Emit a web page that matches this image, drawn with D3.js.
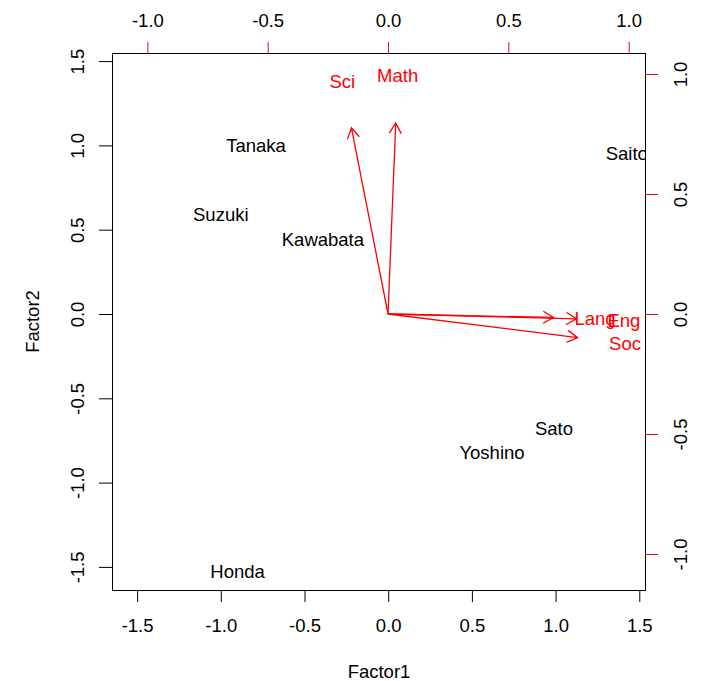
<!DOCTYPE html>
<html>
<head>
	<title>biplot</title>
	<script src="https://d3js.org/d3.v7.min.js"></script>
	<style>
		body { margin: 0; background: #fff; }
		svg text { font-family: "Liberation Sans", Arial, sans-serif; font-size: 18.5px; }
	</style>
</head>
<body>
	<div id="chart"></div>
	<script type="text/javascript">
		// scores .........................
		var students = ['Tanaka', 'Suzuki', 'Kawabata', 'Saito', 'Sato', 'Yoshino', 'Honda'];
		var factor1 = [-0.79, -1.00, -0.39, 1.425, 0.99, 0.62, -0.90];
		var factor2 = [1.00, 0.59, 0.44, 0.95, -0.68, -0.82, -1.53];

		// loadings .........................
		var subjects = ['Sci', 'Math', 'Lang', 'Eng', 'Soc'];
		var load1 = [-0.19, 0.04, 0.86, 0.98, 0.985];
		var load2 = [0.97, 0.995, -0.018, -0.025, -0.123];

		// tick values .........................
		var ticks1 = [-1.5, -1.0, -0.5, 0.0, 0.5, 1.0, 1.5];
		var ticks2 = [-1.0, -0.5, 0.0, 0.5, 1.0];

		var margin = { top: 53, bottom: 91, left: 112, right: 56 };
		var width = 702, height = 681;
		var fmt = function(d) { return d.toFixed(1); };

		var svg = d3.select('#chart').append('svg')
			.attr('width', width)
			.attr('height', height);

		// scales (primary = scores, secondary = loadings)
		var x = d3.scaleLinear().domain([-1.65, 1.54]).range([margin.left, width - margin.right]);
		var y = d3.scaleLinear().domain([-1.637, 1.548]).range([height - margin.bottom, margin.top]);
		var x2 = d3.scaleLinear().domain([-1.147, 1.072]).range([margin.left, width - margin.right]);
		var y2 = d3.scaleLinear().domain([-1.15, 1.0875]).range([height - margin.bottom, margin.top]);

		svg.append('clipPath').attr('id', 'plotclip')
			.append('rect')
			.attr('x', margin.left).attr('y', margin.top)
			.attr('width', width - margin.left - margin.right)
			.attr('height', height - margin.top - margin.bottom);

		// axes..........................
		function styleAxis(g, col) {
			g.attr('font-size', null).attr('font-family', null).attr('color', col);
			g.select('.domain').remove();
			g.selectAll('.tick text').attr('fill', '#000');
		}

		var xGuide = svg.append('g')
			.attr('transform', 'translate(0,' + (height - margin.bottom) + ')')
			.call(d3.axisBottom(x).tickValues(ticks1).tickSize(12).tickFormat(fmt));
		styleAxis(xGuide, '#000');
		xGuide.selectAll('.tick text').attr('y', 35).attr('dy', null).attr('dominant-baseline', 'central');

		var yGuide = svg.append('g')
			.attr('transform', 'translate(' + margin.left + ',0)')
			.call(d3.axisLeft(y).tickValues(ticks1).tickSize(13).tickFormat(fmt));
		styleAxis(yGuide, '#000');
		yGuide.selectAll('.tick text')
			.attr('x', null).attr('dy', null)
			.attr('text-anchor', 'middle').attr('dominant-baseline', 'central')
			.attr('transform', 'translate(-35,0) rotate(-90)');

		var x2Guide = svg.append('g')
			.attr('transform', 'translate(0,' + margin.top + ')')
			.call(d3.axisTop(x2).tickValues(ticks2).tickSize(11).tickFormat(fmt));
		styleAxis(x2Guide, '#FF0000');
		x2Guide.selectAll('.tick text').attr('y', -33).attr('dy', null).attr('dominant-baseline', 'central');

		var y2Guide = svg.append('g')
			.attr('transform', 'translate(' + (width - margin.right) + ',0)')
			.call(d3.axisRight(y2).tickValues(ticks2).tickSize(12).tickFormat(fmt));
		styleAxis(y2Guide, '#FF0000');
		y2Guide.selectAll('.tick text')
			.attr('x', null).attr('dy', null)
			.attr('text-anchor', 'middle').attr('dominant-baseline', 'central')
			.attr('transform', 'translate(34,0) rotate(-90)');

		// box
		svg.append('rect')
			.attr('x', margin.left + 0.5).attr('y', margin.top + 0.5)
			.attr('width', width - margin.left - margin.right - 1)
			.attr('height', height - margin.top - margin.bottom)
			.attr('fill', 'none').attr('stroke', '#000').attr('stroke-width', 1);

		// axis titles
		svg.append('text')
			.attr('x', (margin.left + width - margin.right) / 2).attr('y', 671)
			.attr('text-anchor', 'middle').attr('dominant-baseline', 'central')
			.text('Factor1');
		svg.append('text')
			.attr('transform', 'translate(32,' + ((margin.top + height - margin.bottom) / 2) + ') rotate(-90)')
			.attr('text-anchor', 'middle').attr('dominant-baseline', 'central')
			.text('Factor2');

		var plot = svg.append('g').attr('clip-path', 'url(#plotclip)');

		// score labels
		plot.selectAll('.score')
			.data(students)
			.enter()
			.append('text')
			.attr('class', 'score')
			.attr('x', (d, i) => x(factor1[i]))
			.attr('y', (d, i) => y(factor2[i]))
			.attr('text-anchor', 'middle')
			.attr('dominant-baseline', 'central')
			.attr('fill', '#000')
			.text(d => d);

		// loading labels
		plot.selectAll('.load')
			.data(subjects)
			.enter()
			.append('text')
			.attr('class', 'load')
			.attr('x', (d, i) => x2(load1[i]))
			.attr('y', (d, i) => y2(load2[i]))
			.attr('text-anchor', 'middle')
			.attr('dominant-baseline', 'central')
			.attr('fill', '#FF0000')
			.text(d => d);

		// arrows, drawn to 0.8 of the loading
		var headLen = 12, headAng = Math.PI / 6;
		plot.selectAll('.arrow')
			.data(subjects)
			.enter()
			.append('path')
			.attr('class', 'arrow')
			.attr('fill', 'none')
			.attr('stroke', '#FF0000')
			.attr('stroke-width', 1.3)
			.attr('d', function(d, i) {
				var x0 = x2(0), y0 = y2(0);
				var x1 = x2(load1[i] * 0.8), y1 = y2(load2[i] * 0.8);
				var a = Math.atan2(y0 - y1, x0 - x1);
				var p = d3.path();
				p.moveTo(x0, y0);
				p.lineTo(x1, y1);
				p.moveTo(x1 + headLen * Math.cos(a + headAng), y1 + headLen * Math.sin(a + headAng));
				p.lineTo(x1, y1);
				p.lineTo(x1 + headLen * Math.cos(a - headAng), y1 + headLen * Math.sin(a - headAng));
				return p.toString();
			});
	</script>
</body>
</html>
